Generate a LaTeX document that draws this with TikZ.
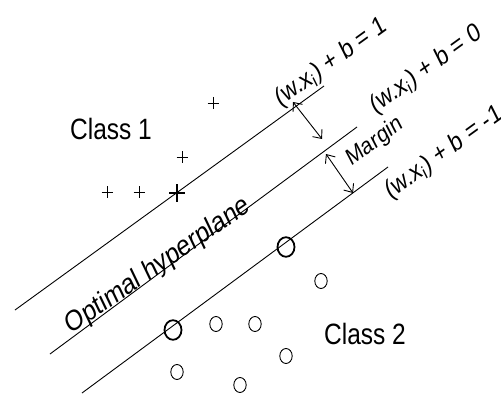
\documentclass[tikz,border=0pt]{standalone}
\usepackage{fontspec}
\setmainfont{Liberation Sans}
\usetikzlibrary{arrows.meta}
\begin{document}
\begin{tikzpicture}[x=1pt,y=-1pt,
  hline/.style={line width=0.9pt},
  lbl/.style={font=\fontsize{24.5}{26}\selectfont, inner sep=0pt},
  eq/.style={font=\fontsize{22}{24}\selectfont, inner sep=0pt, rotate=31},
  pt/.style={line width=0.9pt},
  sv/.style={line width=1.8pt},
  marg/.style={line width=0.9pt, {Straight Barb[length=7pt,width=12pt]}-{Straight Barb[length=7pt,width=12pt]}}]
\useasboundingbox (0,0) rectangle (501,396);
% hyperplanes
\coordinate (t1) at (15,310); \coordinate (t2) at (324,86);
\coordinate (m1) at (50,354); \coordinate (m2) at (357,127);
\coordinate (b1) at (82,393); \coordinate (b2) at (388,167);
\draw[hline] (t1) -- (t2);
\draw[hline] (m1) -- (m2);
\draw[hline] (b1) -- (b2);
% margin arrows
\coordinate (a1) at (293,102); \coordinate (a2) at (322,139);
\coordinate (a3) at (326,154); \coordinate (a4) at (353,193);
\draw[marg] (a1) -- (a2);
\draw[marg] (a3) -- (a4);
% labels (text stretched vertically like the reference)
\begin{scope}[yscale=1.2, transform shape]
\node[eq] (e1) at (331,{63/1.2}) {(w.x\textsubscript{i}) + b = 1};
\node[eq] (e0) at (426,{70/1.2}) {(w.x\textsubscript{i}) + b = 0};
\node[eq] (em) at (444,{153/1.2}) {(w.x\textsubscript{i}) + b = -1};
\node[font=\fontsize{20}{22}\selectfont, inner sep=0pt, rotate=32] (mg) at (375,{142/1.2}) {Margin};
\node[font=\fontsize{24}{26}\selectfont, inner sep=0pt, rotate=30] (oh) at (158,{266/1.2}) {Optimal hyperplane};
\node[lbl] (c1) at (111,{129/1.2}) {Class 1};
\node[lbl] (c2) at (365,{334/1.2}) {Class 2};
\end{scope}
% class 1 points
\foreach \x/\y in {213/103, 182/157, 107/192, 139/192}
  \draw[pt] (\x-5.5,\y) -- (\x+5.5,\y) (\x,\y-6) -- (\x,\y+6);
\draw[sv] (169,193) -- (185,193) (177,184) -- (177,202);
% class 2 points
\foreach \x/\y in {216/324, 255/324, 321/281, 286/356, 177/372, 240/385}
  \draw[pt] (\x,\y) ellipse [x radius=6.2, y radius=7.5];
\draw[sv] (286,247) ellipse [x radius=8.5, y radius=9.8];
\draw[sv] (173,330) ellipse [x radius=8.5, y radius=9.8];
\end{tikzpicture}
\end{document}
